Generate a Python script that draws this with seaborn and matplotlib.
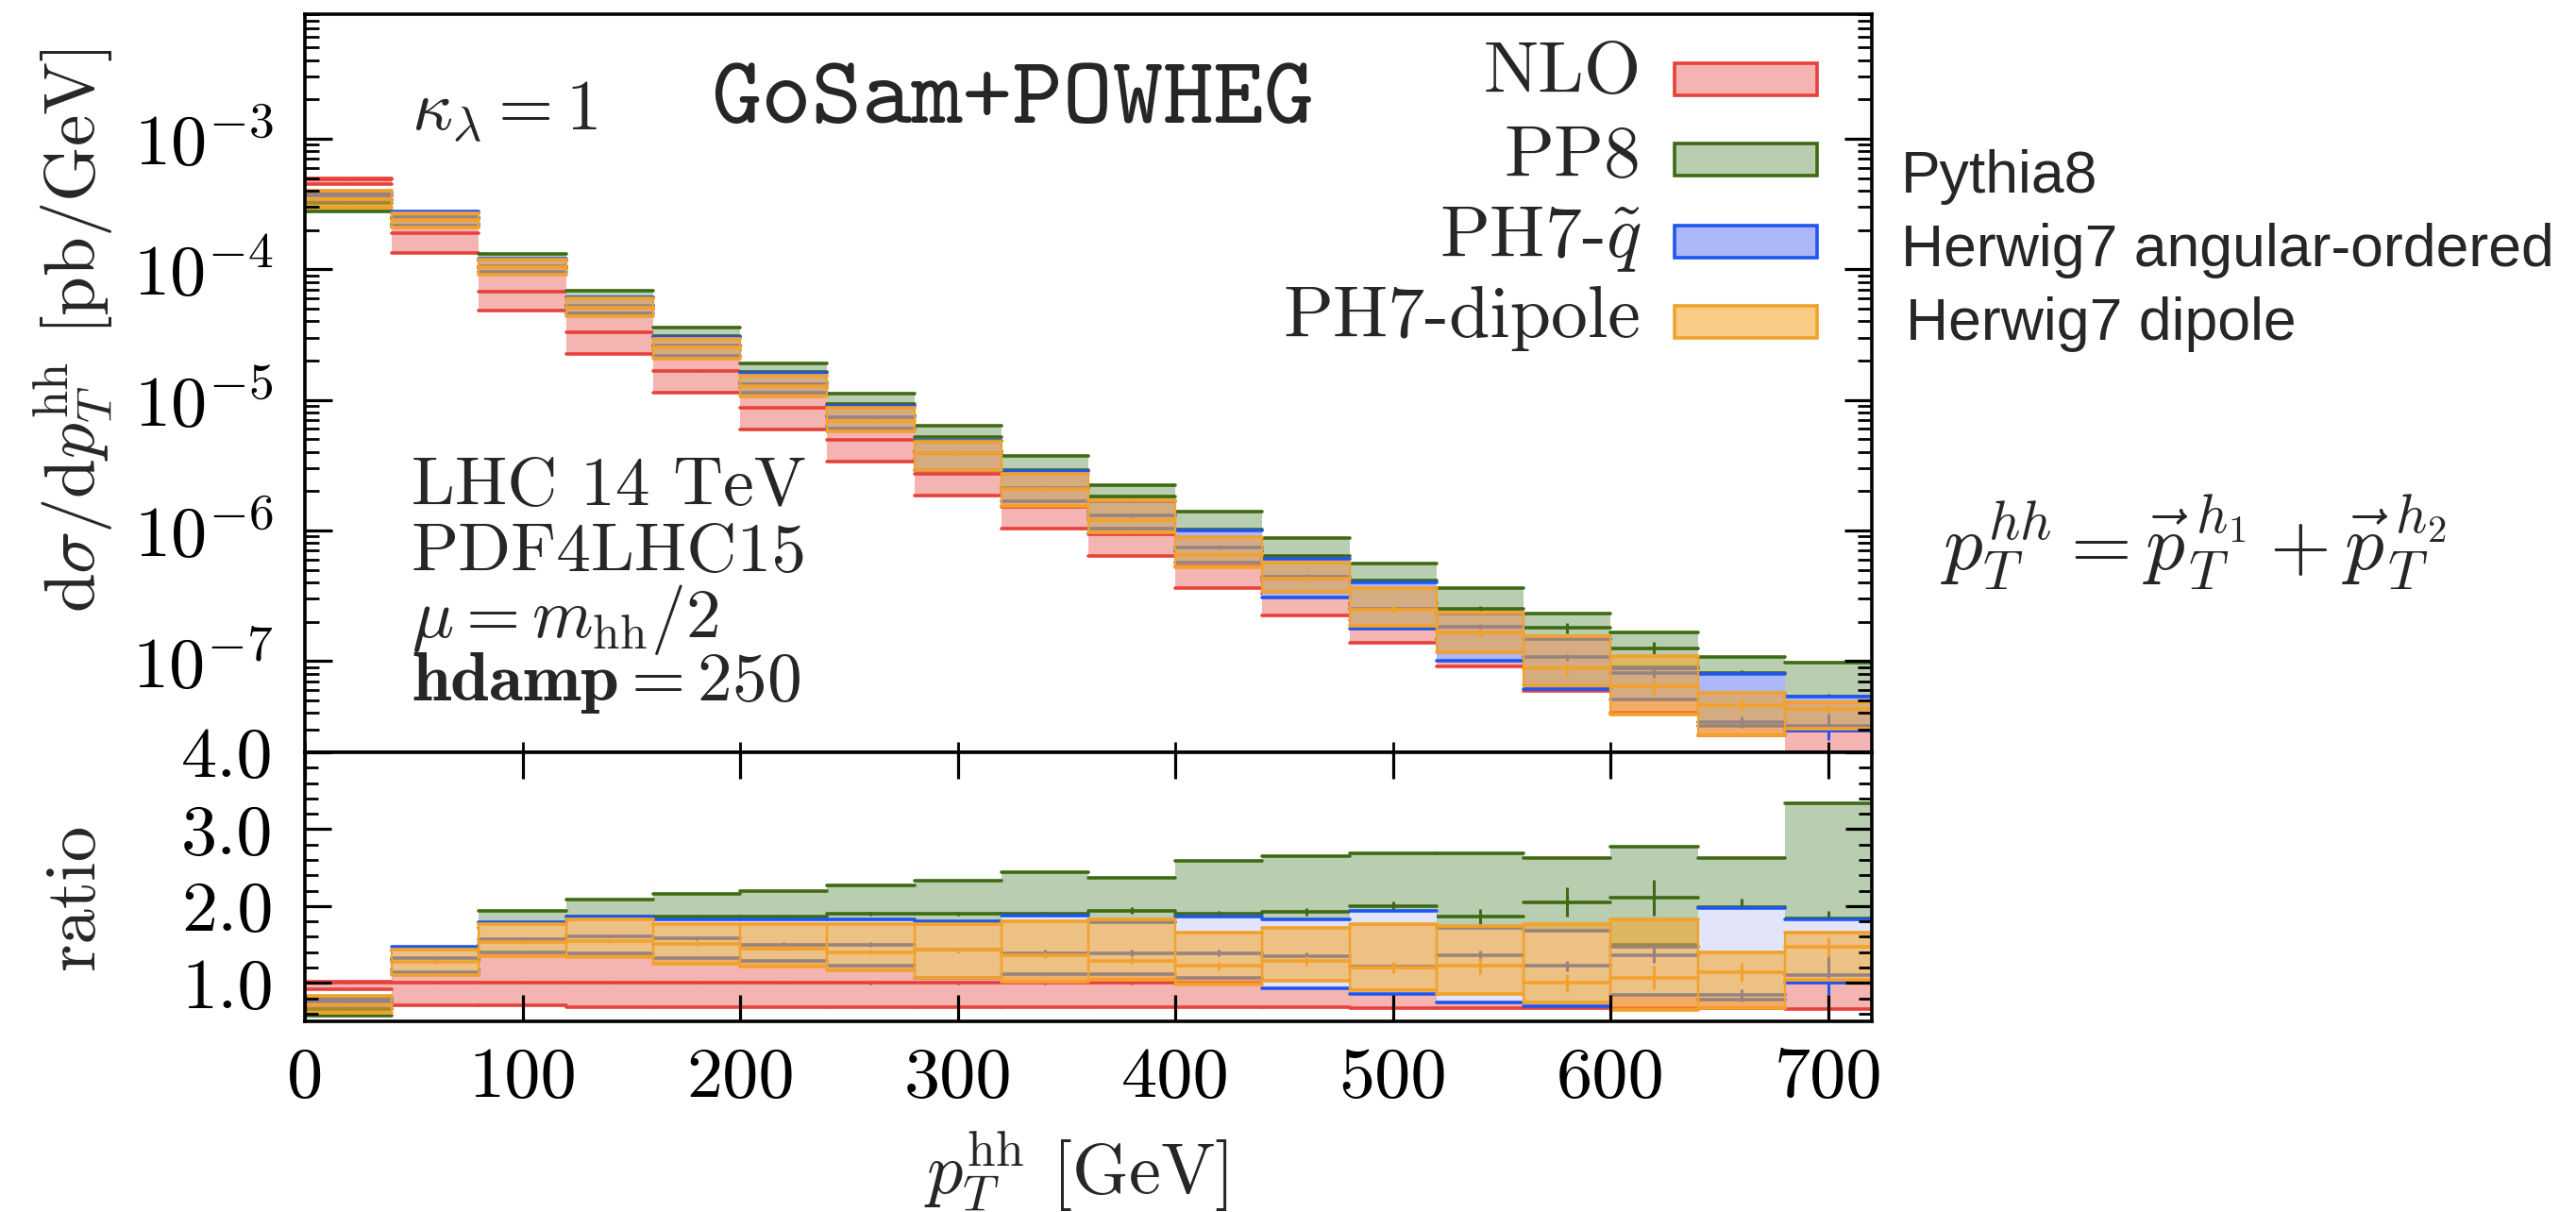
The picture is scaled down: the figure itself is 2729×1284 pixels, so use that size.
import numpy as np
import pandas as pd
import matplotlib
matplotlib.use("Agg")
import matplotlib.pyplot as plt
import seaborn as sns
from matplotlib.patches import Rectangle
from matplotlib.ticker import (LogLocator, FixedLocator, MultipleLocator,
                               NullFormatter, FuncFormatter, NullLocator)

# ------------------------------------------------------------------ data
bin_edges = [0, 40, 80, 120, 160, 200, 240, 280, 320, 360, 400, 440, 480,
             520, 560, 600, 640, 680, 720]

# NLO central value of d(sigma)/d(pT_hh) [pb/GeV] (reference of the ratio)
nlo_central = [4.85e-4, 1.89e-4, 6.78e-5, 3.29e-5, 1.66e-5, 8.75e-6, 4.92e-6,
               2.72e-6, 1.52e-6, 9.35e-7, 5.35e-7, 3.30e-7, 2.07e-7, 1.35e-7,
               8.75e-8, 5.96e-8, 4.06e-8, 2.91e-8]

# ratios to NLO central: lower edge, central value, upper edge, stat. error
nlo_lo = [0.92, 0.71, 0.71, 0.68, 0.68, 0.68, 0.68, 0.68, 0.68, 0.68, 0.68,
          0.68, 0.67, 0.67, 0.67, 0.67, 0.67, 0.66]
nlo_c = [1.0, 1.0, 1.0, 1.0, 1.0, 1.0, 1.0, 1.0, 1.0, 1.0, 1.0, 1.0, 1.0, 1.0,
         1.0, 1.0, 1.0, 1.0]
nlo_hi = [1.02, 1.30, 1.50, 1.50, 1.45, 1.40, 1.30, 1.30, 1.30, 1.30, 1.30,
          1.30, 1.30, 1.30, 1.30, 1.30, 1.30, 1.30]
nlo_err = [0.005, 0.005, 0.01, 0.01, 0.01, 0.01, 0.015, 0.015, 0.015, 0.02,
           0.02, 0.02, 0.02, 0.02, 0.025, 0.025, 0.03, 0.03]

pp8_lo = [0.57, 1.18, 1.50, 1.62, 1.58, 1.55, 1.55, 1.50, 1.40, 1.50, 1.30,
          1.25, 1.35, 1.10, 1.45, 1.49, 1.35, 1.10]
pp8_c = [0.66, 1.30, 1.72, 1.86, 1.86, 1.86, 1.90, 1.90, 1.90, 1.94, 1.90,
         1.92, 2.00, 1.86, 2.05, 2.11, 1.98, 1.84]
pp8_hi = [0.76, 1.42, 1.94, 2.08, 2.16, 2.19, 2.27, 2.33, 2.44, 2.37, 2.59,
          2.65, 2.69, 2.69, 2.63, 2.77, 2.63, 3.34]
pp8_err = [0.01, 0.01, 0.01, 0.02, 0.02, 0.02, 0.03, 0.03, 0.03, 0.04, 0.04,
           0.05, 0.06, 0.10, 0.19, 0.23, 0.12, 0.10]

ph7q_lo = [0.70, 1.14, 1.40, 1.39, 1.32, 1.29, 1.22, 1.06, 1.11, 1.11, 1.07,
           0.93, 0.86, 0.75, 0.70, 0.85, 0.78, 1.00]
ph7q_c = [0.76, 1.32, 1.57, 1.61, 1.58, 1.50, 1.50, 1.43, 1.39, 1.39, 1.39,
          1.35, 1.21, 1.36, 1.22, 1.36, 0.84, 1.10]
ph7q_hi = [0.80, 1.47, 1.79, 1.86, 1.83, 1.83, 1.83, 1.80, 1.87, 1.79, 1.86,
           1.83, 1.94, 1.72, 1.68, 1.47, 1.97, 1.83]
ph7q_err = [0.01, 0.02, 0.02, 0.02, 0.02, 0.03, 0.03, 0.03, 0.04, 0.04, 0.04,
            0.05, 0.05, 0.06, 0.07, 0.10, 0.08, 0.25]

dip_lo = [0.61, 1.10, 1.35, 1.33, 1.25, 1.21, 1.16, 1.07, 1.02, 1.04, 0.98,
          1.03, 0.90, 0.86, 0.75, 0.65, 0.67, 1.04]
dip_c = [0.71, 1.27, 1.53, 1.54, 1.51, 1.45, 1.40, 1.43, 1.36, 1.29, 1.22,
         1.29, 1.20, 1.22, 1.00, 1.07, 1.14, 1.47]
dip_hi = [0.83, 1.43, 1.76, 1.83, 1.76, 1.76, 1.76, 1.76, 1.80, 1.83, 1.65,
          1.72, 1.76, 1.74, 1.76, 1.83, 1.40, 1.66]
dip_err = [0.01, 0.02, 0.02, 0.02, 0.03, 0.03, 0.03, 0.03, 0.04, 0.04, 0.05,
           0.06, 0.07, 0.10, 0.12, 0.15, 0.12, 0.12]

legend_labels = ["NLO", "PP8", r"PH7-$\tilde{q}$", "PH7-dipole"]
side_labels = ["Pythia8", "Herwig7 angular-ordered", "Herwig7 dipole"]
main_yticks = [1e-7, 1e-6, 1e-5, 1e-4, 1e-3]
ratio_yticks = [1.0, 2.0, 3.0, 4.0]
x_ticks = [0, 100, 200, 300, 400, 500, 600, 700]

# ------------------------------------------------------------------ style
sns.set_theme(style="ticks")
plt.rcParams.update({
    "font.family": ["cmr10", "DejaVu Serif"],
    "mathtext.fontset": "cm",
    "axes.formatter.use_mathtext": True,
    "axes.unicode_minus": False,
    "axes.linewidth": 2.6,
    "axes.edgecolor": "black",
    "xtick.color": "black",
    "ytick.color": "black",
    "axes.facecolor": "white",
    "figure.facecolor": "white",
})

RED, PINK = "#e8403a", "#f4b4b2"
GREEN, LGREEN = "#3d6a12", "#b9cdb0"
BLUE, LBLUE_MAIN, LBLUE_RATIO = "#1f56f0", "#adb6f6", "#e2e5fa"
ORANGE = "#f2a12c"
ORANGE_FILL = (0.96, 0.65, 0.16, 0.57)

series = [
    dict(lo=nlo_lo, c=nlo_c, hi=nlo_hi, err=nlo_err, line=RED,
         fill_main=PINK, fill_ratio=PINK, boxes=False),
    dict(lo=pp8_lo, c=pp8_c, hi=pp8_hi, err=pp8_err, line=GREEN,
         fill_main=LGREEN, fill_ratio=LGREEN, boxes=False),
    dict(lo=ph7q_lo, c=ph7q_c, hi=ph7q_hi, err=ph7q_err, line=BLUE,
         fill_main=LBLUE_MAIN, fill_ratio=LBLUE_RATIO, boxes=False),
    dict(lo=dip_lo, c=dip_c, hi=dip_hi, err=dip_err, line=ORANGE,
         fill_main=ORANGE_FILL, fill_ratio=ORANGE_FILL, boxes=True),
]

LW = 2.6

fig = plt.figure(figsize=(27.29, 12.84), dpi=100)
ax_main = fig.add_axes([0.11836, 0.37928, 0.60828, 0.60903])
ax_ratio = fig.add_axes([0.11836, 0.15732, 0.60828, 0.22196], sharex=ax_main)
ax_main.set_yscale("log")


def bin_segments(xl, xr, vals):
    """One two-point line (unit) per bin: a horizontal bar across the bin."""
    n = len(vals)
    return pd.DataFrame({
        "x": np.ravel(np.column_stack([xl, xr])),
        "y": np.repeat(vals, 2),
        "seg": np.repeat(np.arange(n), 2),
    })


def draw_panel(ax, norm, ratio_panel):
    x = np.array(bin_edges, dtype=float)
    xl, xr = x[:-1], x[1:]
    xc = 0.5 * (xl + xr)
    nrm = np.asarray(norm, dtype=float)
    for z, s in enumerate(series, start=1):
        lo = np.asarray(s["lo"]) * nrm
        hi = np.asarray(s["hi"]) * nrm
        c = np.asarray(s["c"]) * nrm
        elo = (np.asarray(s["c"]) - np.asarray(s["err"])) * nrm
        ehi = (np.asarray(s["c"]) + np.asarray(s["err"])) * nrm
        fill = s["fill_ratio"] if ratio_panel else s["fill_main"]
        if s["boxes"]:
            ax.bar(xl, hi - lo, bottom=lo, width=xr - xl, align="edge",
                   color=fill, edgecolor=s["line"], linewidth=1.6, zorder=z)
        else:
            ax.fill_between(x, np.r_[lo, lo[-1]], np.r_[hi, hi[-1]], step="post",
                            facecolor=fill, linewidth=0, zorder=z)
        for arr, zz in ((lo, 0.1), (hi, 0.1), (c, 0.2)):
            sns.lineplot(data=bin_segments(xl, xr, arr), x="x", y="y",
                         units="seg", estimator=None, color=s["line"],
                         linewidth=LW, ax=ax, zorder=z + zz)
        ax.vlines(xc, elo, ehi, colors=s["line"], linewidth=2.2, zorder=z + 0.2)


draw_panel(ax_main, nlo_central, False)
draw_panel(ax_ratio, np.ones(len(nlo_central)), True)

# ------------------------------------------------------------------ axes
ax_main.set_xlim(0, 720)
ax_main.set_ylim(2e-8, 9e-3)
ax_ratio.set_ylim(0.5, 4.0)

for ax in (ax_main, ax_ratio):
    for sp in ax.spines.values():
        sp.set_zorder(10)
        sp.set_linewidth(2.6)
    ax.xaxis.set_zorder(10)
    ax.yaxis.set_zorder(10)
    ax.set_xlabel("")
    ax.set_ylabel("")

ax_main.yaxis.set_major_locator(FixedLocator(main_yticks))
ax_main.yaxis.set_minor_locator(LogLocator(base=10, subs=np.arange(2, 10), numticks=30))
ax_main.yaxis.set_major_formatter(
    FuncFormatter(lambda v, p: r"$10^{%d}$" % int(round(np.log10(v)))))
ax_main.yaxis.set_minor_formatter(NullFormatter())
ax_main.xaxis.set_major_locator(FixedLocator(x_ticks))
ax_main.xaxis.set_minor_locator(NullLocator())

ax_ratio.yaxis.set_major_locator(FixedLocator(ratio_yticks))
ax_ratio.yaxis.set_major_formatter(FuncFormatter(lambda v, p: "%.1f" % v))
ax_ratio.yaxis.set_minor_locator(MultipleLocator(0.2))
ax_ratio.xaxis.set_major_locator(FixedLocator(x_ticks))
ax_ratio.xaxis.set_minor_locator(NullLocator())
ax_ratio.xaxis.set_major_formatter(FuncFormatter(lambda v, p: "%d" % v))

ax_main.tick_params(axis="both", which="both", direction="in", right=True,
                    top=False, bottom=True, labelbottom=False, labelsize=55)
ax_main.tick_params(axis="y", which="major", length=21, width=2.3, pad=24)
ax_main.tick_params(axis="y", which="minor", length=11, width=2.0)
ax_main.tick_params(axis="x", which="major", length=8, width=2.0)

ax_ratio.tick_params(axis="both", which="both", direction="in", right=True,
                     top=True, bottom=True, labelsize=55)
ax_ratio.tick_params(axis="y", which="major", length=20, width=2.3, pad=24)
ax_ratio.tick_params(axis="y", which="minor", length=10, width=2.0)
ax_ratio.tick_params(axis="x", which="major", length=20, width=2.3, pad=20)

ax_main.set_ylabel(r"$\mathrm{d}\sigma/\mathrm{d}p_T^{\mathrm{hh}}$ [pb/GeV]",
                   fontsize=54)
ax_main.yaxis.label.set_verticalalignment("center")
ax_main.yaxis.set_label_coords(-0.1476, 0.5716)

ax_ratio.set_ylabel("ratio", fontsize=54)
ax_ratio.yaxis.label.set_verticalalignment("center")
ax_ratio.yaxis.set_label_coords(-0.1464, 0.463)

ax_ratio.set_xlabel(r"$p_T^{\mathrm{hh}}$ [GeV]", fontsize=55)
ax_ratio.xaxis.label.set_verticalalignment("top")
ax_ratio.xaxis.set_label_coords(0.492, -0.40)

# ------------------------------------------------------------------ annotations
ax_main.text(0.0678, 0.844, r"$\kappa_\lambda = 1$", transform=ax_main.transAxes,
             fontsize=54, va="baseline", ha="left", zorder=20)
ax_main.text(0.259, 0.853, "GoSam+POWHEG", transform=ax_main.transAxes,
             fontsize=73, va="baseline", ha="left", family="cmtt10", zorder=20)

info_lines = ["LHC 14 TeV", "PDF4LHC15", r"$\mu = m_{\mathrm{hh}}/2$",
              r"$\mathbf{hdamp} = 250$"]
info_y = [0.335, 0.2455, 0.156, 0.0703]
for t, yy in zip(info_lines, info_y):
    ax_main.text(0.0678, yy, t, transform=ax_main.transAxes, fontsize=53,
                 va="baseline", ha="left", zorder=20)

leg_text_y = [0.8939, 0.7804, 0.6717, 0.5630]
leg_box_y = [0.8904, 0.7813, 0.6697, 0.5610]
for s, lab, ty, by in zip(series, legend_labels, leg_text_y, leg_box_y):
    ax_main.text(0.8528, ty, lab, transform=ax_main.transAxes, fontsize=56,
                 va="baseline", ha="right", zorder=20)
    ax_main.add_patch(Rectangle((0.8739, by), 0.0910, 0.0435,
                                transform=ax_main.transAxes,
                                facecolor=s["fill_main"], edgecolor=s["line"],
                                linewidth=2.6, zorder=20, clip_on=False))

for t, xx, yy in zip(side_labels, [0.738, 0.738, 0.7397],
                     [0.8411, 0.7804, 0.7196]):
    fig.text(xx, yy, t, family="Liberation Sans", fontsize=45, va="baseline",
             ha="left")

fig.text(0.7535, 0.5288,
         r"$p_T^{hh} = \vec{p}_T^{\,h_1} + \vec{p}_T^{\,h_2}$",
         fontsize=60, va="baseline", ha="left")

fig.savefig("out.png", dpi=100)
